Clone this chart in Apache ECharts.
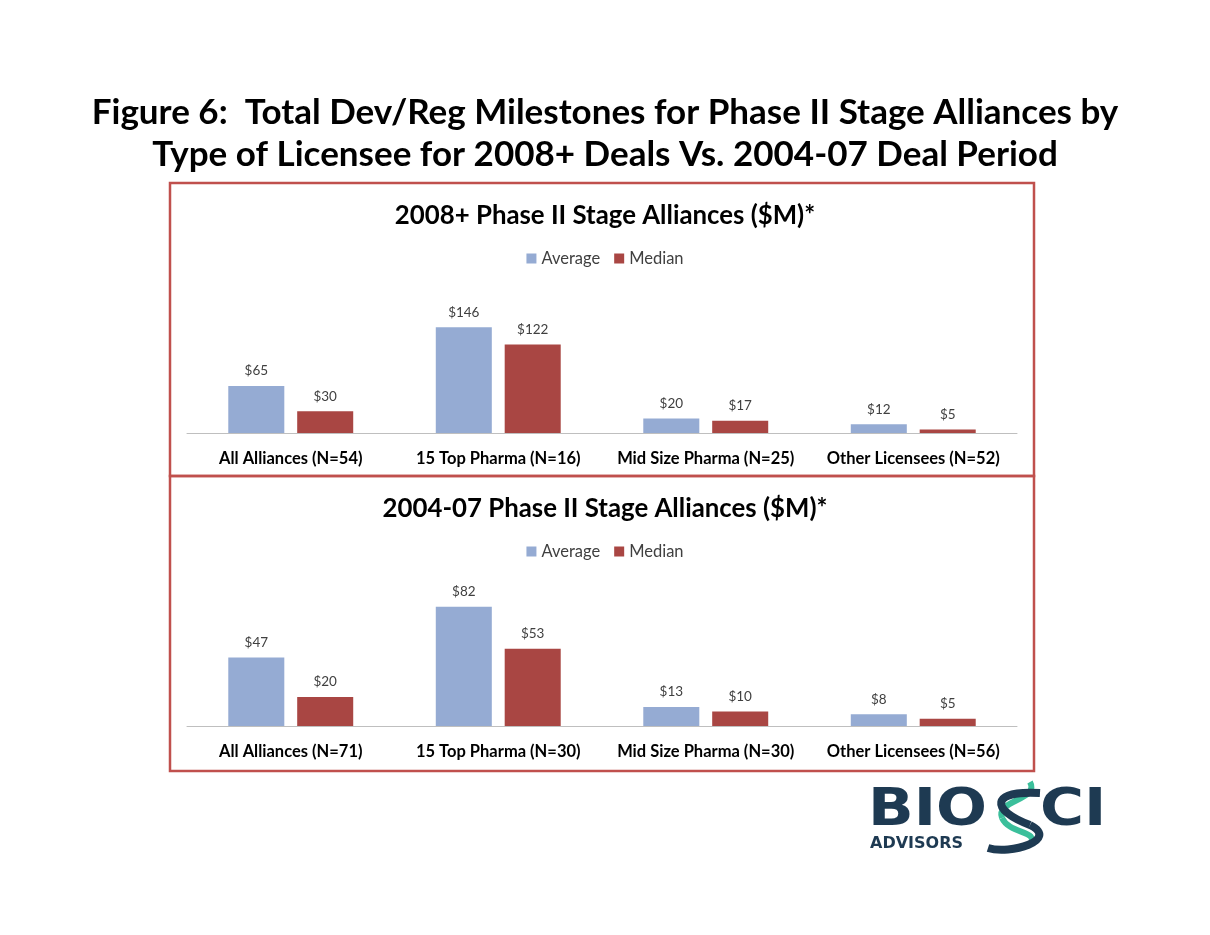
<!DOCTYPE html>
<html><head><meta charset="utf-8">
<script src="https://cdn.jsdelivr.net/npm/echarts@6/dist/echarts.min.js"></script>
<style>html,body{margin:0;padding:0;background:#fff;}#c{width:1210px;height:935px;}</style>
</head><body><div id="c"></div>
<script>
const categories2008 = ['All Alliances (N=54)', '15 Top Pharma (N=16)', 'Mid Size Pharma (N=25)', 'Other Licensees (N=52)'];
const average2008 = [65, 146, 20, 12];
const median2008 = [30, 122, 17, 5];
const categories2004 = ['All Alliances (N=71)', '15 Top Pharma (N=30)', 'Mid Size Pharma (N=30)', 'Other Licensees (N=56)'];
const average2004 = [47, 82, 13, 8];
const median2004 = [20, 53, 10, 5];
const seriesNames = ['Average', 'Median'];

const FONT = 'Lato';
const BLUE = '#95abd3', RED = '#a94643', BOX = '#c0504d', NAVY = '#1e3a52', TEAL = '#3bbf9b';
const chart = echarts.init(document.getElementById('c'));

function xAxis(gi, cats) {
  return {
    type: 'category', gridIndex: gi, data: cats,
    axisLine: {lineStyle: {color: '#bfbfbf', width: 1}},
    axisTick: {show: false},
    axisLabel: {fontFamily: FONT, fontWeight: 'bold', fontSize: 16.5, color: '#000', margin: 17, interval: 0}
  };
}
function yAxis(gi, max) {
  return {type: 'value', gridIndex: gi, min: 0, max: max, show: false, splitLine: {show: false}};
}
function bar(name, data, gi, color) {
  return {
    type: 'bar', name: name, data: data, xAxisIndex: gi, yAxisIndex: gi,
    barWidth: '27%', barGap: '23%',
    itemStyle: {color: color},
    label: {show: true, position: 'top', distance: 8, formatter: p => '$' + p.value,
      fontFamily: FONT, fontSize: 13.5, color: '#404040'}
  };
}
const legendBase = {
  data: seriesNames, icon: 'rect', itemWidth: 10, itemHeight: 10, itemGap: 14,
  textStyle: {fontFamily: FONT, fontSize: 16.5, color: '#404040'}
};

chart.setOption({
  animation: false,
  title: [
    {text: 'Figure 6:  Total Dev/Reg Milestones for Phase II Stage Alliances by\nType of Licensee for 2008+ Deals Vs. 2004-07 Deal Period',
      left: 'center', top: 87,
      textStyle: {fontFamily: FONT, fontWeight: 'bold', fontSize: 35, lineHeight: 42, color: '#000'}},
    {text: '2008+ Phase II Stage Alliances ($M)*', left: 'center', top: 198,
      textStyle: {fontFamily: FONT, fontWeight: 'bold', fontSize: 25.8, color: '#000'}},
    {text: '2004-07 Phase II Stage Alliances ($M)*', left: 'center', top: 491,
      textStyle: {fontFamily: FONT, fontWeight: 'bold', fontSize: 25.8, color: '#000'}}
  ],
  legend: [
    Object.assign({left: 'center', top: 245}, legendBase),
    Object.assign({left: 'center', top: 538}, legendBase)
  ],
  grid: [
    {left: 187, width: 830, top: 317, height: 116},
    {left: 187, width: 830, top: 595, height: 131}
  ],
  xAxis: [xAxis(0, categories2008), xAxis(1, categories2004)],
  yAxis: [yAxis(0, 160), yAxis(1, 90)],
  series: [
    bar(seriesNames[0], average2008, 0, BLUE),
    bar(seriesNames[1], median2008, 0, RED),
    bar(seriesNames[0], average2004, 1, BLUE),
    bar(seriesNames[1], median2004, 1, RED)
  ],
  graphic: [
    {type: 'rect', shape: {x: 170, y: 183, width: 864, height: 293}, style: {fill: 'none', stroke: BOX, lineWidth: 2.5}, z: -1},
    {type: 'rect', shape: {x: 170, y: 476, width: 864, height: 295}, style: {fill: 'none', stroke: BOX, lineWidth: 2.5}, z: -1},
    {type: 'text', x: 868, y: 786, style: {text: 'BIO', font: 'bold 60px "DejaVu Sans"', fill: NAVY}, scaleX: 1, scaleY: 0.85},
    {type: 'text', x: 1040, y: 786, style: {text: 'CI', font: 'bold 60px "DejaVu Sans"', fill: NAVY}, scaleY: 0.85},
    {type: 'text', x: 870, y: 836, style: {text: 'ADVISORS', font: 'bold 16px "DejaVu Sans"', fill: NAVY}},
    {type: 'bezierCurve', shape: {x1: 1030, y1: 782, x2: 1002, y2: 818, cpx1: 1040, cpy1: 800, cpx2: 995, cpy2: 800},
      style: {stroke: TEAL, lineWidth: 6, fill: 'none'}},
    {type: 'bezierCurve', shape: {x1: 1002, y1: 818, x2: 1030, y2: 845, cpx1: 1010, cpy1: 835, cpx2: 1040, cpy2: 830},
      style: {stroke: TEAL, lineWidth: 6, fill: 'none'}},
    {type: 'bezierCurve', shape: {x1: 1040, y1: 793, x2: 1030, y2: 825, cpx1: 990, cpy1: 790, cpx2: 990, cpy2: 810},
      style: {stroke: NAVY, lineWidth: 8, fill: 'none'}},
    {type: 'bezierCurve', shape: {x1: 1030, y1: 825, x2: 988, y2: 848, cpx1: 1060, cpy1: 840, cpx2: 1010, cpy2: 855},
      style: {stroke: NAVY, lineWidth: 8, fill: 'none'}}
  ]
});
</script></body></html>
